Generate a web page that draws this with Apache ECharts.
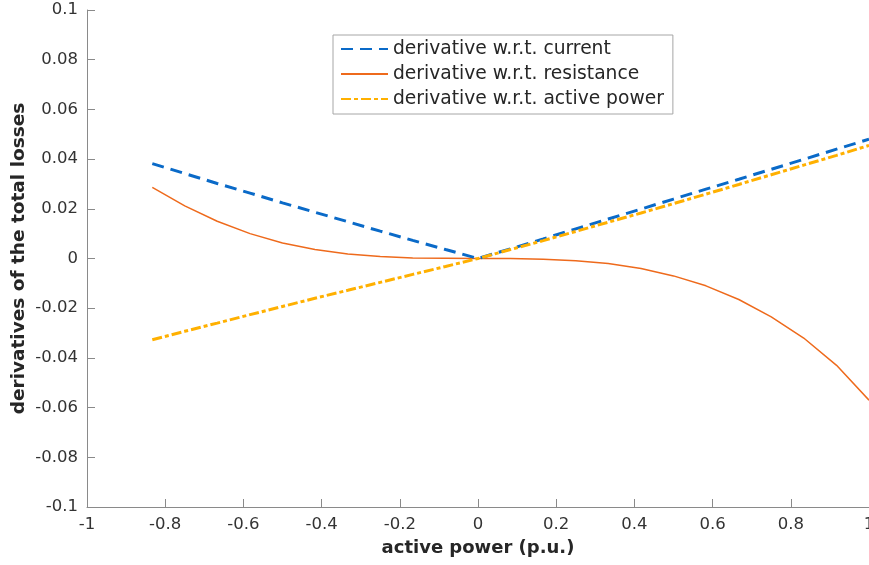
<!DOCTYPE html>
<html>
<head>
<meta charset="utf-8">
<script src="https://cdn.jsdelivr.net/npm/echarts@6/dist/echarts.min.js"></script>
<style>
html,body{margin:0;padding:0;background:#fff;}
#chart{width:869px;height:565px;}
</style>
</head>
<body>
<div id="chart"></div>
<script>
var xValues = [-0.833, -0.75, -0.667, -0.583, -0.5, -0.417, -0.333, -0.25, -0.167, -0.083, 0,
               0.083, 0.167, 0.25, 0.333, 0.417, 0.5, 0.583, 0.667, 0.75, 0.833, 0.917, 1.0];
var currentDeriv = [0.0382, 0.0342, 0.0302, 0.0263, 0.0224, 0.0186, 0.0148, 0.0110, 0.0073, 0.0036, 0,
                    0.0039, 0.0079, 0.0119, 0.0159, 0.0199, 0.0239, 0.0279, 0.0319, 0.0359, 0.0399, 0.0440, 0.0480];
var resistanceDeriv = [0.0286, 0.0212, 0.0150, 0.0100, 0.0062, 0.0036, 0.0018, 0.0008, 0.0002, 0.0001, 0,
                       0.0000, -0.0003, -0.0009, -0.0020, -0.0040, -0.0070, -0.0110, -0.0165, -0.0235, -0.0320, -0.0430, -0.0570];
var powerDeriv = [-0.0327, -0.0293, -0.0260, -0.0226, -0.0193, -0.0160, -0.0128, -0.0096, -0.0064, -0.0032, 0,
                  0.0036, 0.0072, 0.0109, 0.0146, 0.0183, 0.0221, 0.0259, 0.0298, 0.0337, 0.0376, 0.0415, 0.0455];
var seriesNames = ['derivative w.r.t. current', 'derivative w.r.t. resistance', 'derivative w.r.t. active power'];
var xAxisTitle = 'active power (p.u.)';
var yAxisTitle = 'derivatives of the total losses';

function pairs(ys) { return xValues.map(function (x, i) { return [x, ys[i]]; }); }

var chart = echarts.init(document.getElementById('chart'), null, {renderer: 'canvas'});
var axisColor = '#8a8a8a';
var labelColor = '#333333';
var tickFont = 'DejaVu Sans';
chart.setOption({
  animation: false,
  backgroundColor: '#ffffff',
  grid: {left: 87, right: 0, top: 10, bottom: 58, containLabel: false, outerBoundsMode: 'none'},
  legend: {
    orient: 'vertical',
    left: 333, top: 35,
    padding: [4, 9, 5, 7],
    itemWidth: 47, itemHeight: 14, itemGap: 5,
    backgroundColor: '#ffffff',
    borderColor: '#a6a6a6', borderWidth: 1,
    align: 'left',
    itemStyle: {opacity: 0},
    textStyle: {fontFamily: 'DejaVu Sans', fontSize: 18.7, color: '#262626', lineHeight: 20},
    data: seriesNames
  },
  xAxis: {
    type: 'value', min: -1, max: 1, interval: 0.2,
    name: xAxisTitle, nameLocation: 'middle', nameGap: 32, nameMoveOverlap: false,
    nameTextStyle: {fontFamily: 'DejaVu Sans', fontWeight: 'bold', fontSize: 18, color: '#262626'},
    axisLine: {show: true, onZero: false, lineStyle: {color: axisColor, width: 1}},
    axisTick: {show: true, inside: true, length: 8, lineStyle: {color: axisColor}},
    axisLabel: {margin: 9, fontFamily: tickFont, fontSize: 16.5, color: labelColor, showMaxLabel: true, showMinLabel: true},
    splitLine: {show: false}
  },
  yAxis: {
    type: 'value', min: -0.1, max: 0.1, interval: 0.02,
    name: yAxisTitle, nameLocation: 'middle', nameGap: 58, nameMoveOverlap: false,
    nameTextStyle: {fontFamily: 'DejaVu Sans', fontWeight: 'bold', fontSize: 18.5, color: '#262626'},
    axisLine: {show: true, onZero: false, lineStyle: {color: axisColor, width: 1}},
    axisTick: {show: true, inside: true, length: 8, lineStyle: {color: axisColor}},
    axisLabel: {margin: 9, fontFamily: tickFont, fontSize: 16.5, color: labelColor,
      formatter: function (v) { return String(Math.round(v * 100) / 100); }},
    splitLine: {show: false}
  },
  series: [
    {
      name: seriesNames[0], type: 'line', data: pairs(currentDeriv),
      symbol: 'none', z: 3,
      lineStyle: {color: '#0a6ac8', width: 3, type: [12, 7]},
      itemStyle: {color: '#0a6ac8'}
    },
    {
      name: seriesNames[1], type: 'line', data: pairs(resistanceDeriv),
      symbol: 'none', z: 2,
      lineStyle: {color: '#ee6a1c', width: 1.5, type: 'solid'},
      itemStyle: {color: '#ee6a1c'}
    },
    {
      name: seriesNames[2], type: 'line', data: pairs(powerDeriv),
      symbol: 'none', z: 4,
      lineStyle: {color: '#ffb000', width: 3, type: [10, 3, 4, 3]},
      itemStyle: {color: '#ffb000'}
    }
  ]
});
</script>
</body>
</html>
